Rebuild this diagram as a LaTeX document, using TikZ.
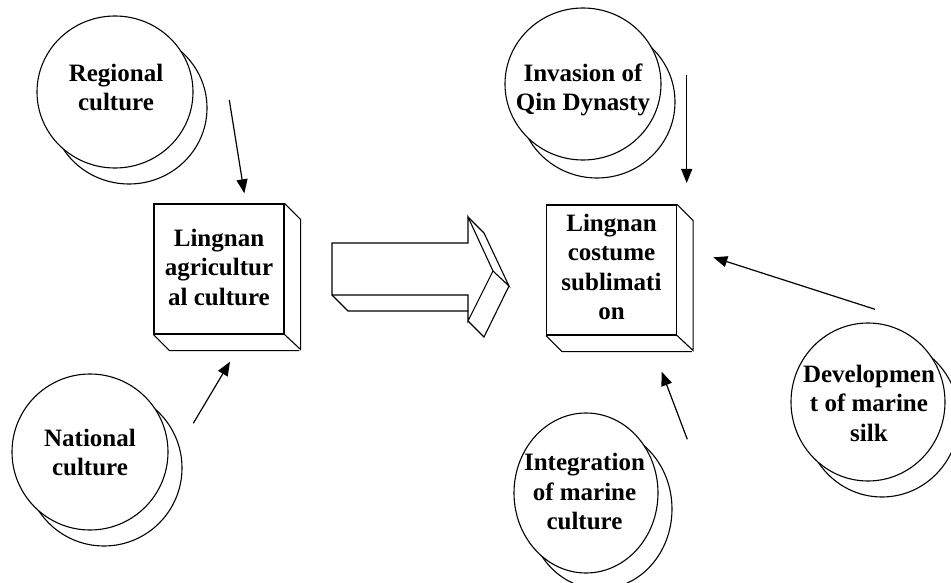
\documentclass[tikz,border=0pt]{standalone}
\usepackage{fontspec}
\setmainfont{Liberation Serif}
\usetikzlibrary{arrows.meta,shapes.geometric}
\begin{document}
\begin{tikzpicture}[x=1pt,y=-1pt,
  ln/.style={line width=1.1pt, line join=miter},
  bub/.style={ellipse, draw, line width=1.1pt, fill=white, inner sep=0pt},
  txt/.style={font=\bfseries\fontsize{25}{29.5}\selectfont, align=center, inner sep=0pt},
  cubebox/.style={draw, line width=1.1pt, fill=white, minimum width=130pt, minimum height=130pt, inner sep=0pt},
  conn/.style={line width=1.2pt, -{Triangle[length=14pt,width=11pt]}}
]
\useasboundingbox (0,0) rectangle (951,583);

% ---- circles (back, then front) ----
\node[bub, minimum width=156pt, minimum height=152pt] (regB) at (129,108) {};
\node[bub, minimum width=156pt, minimum height=152pt] (reg) at (115,92) {};
\node[txt] (regT) at (116,87.5) {Regional\\culture};

\node[bub, minimum width=156pt, minimum height=152pt] (invB) at (597,102) {};
\node[bub, minimum width=156pt, minimum height=152pt] (inv) at (583,84) {};
\node[txt] (invT) at (583,90) {Invasion of\\Qin Dynasty};

\node[bub, minimum width=156pt, minimum height=156pt] (natB) at (104,468) {};
\node[bub, minimum width=156pt, minimum height=156pt] (nat) at (90,452) {};
\node[txt] (natT) at (90,452.5) {National\\culture};

\node[bub, minimum width=154pt, minimum height=158pt] (devB) at (882,418) {};
\node[bub, minimum width=154pt, minimum height=158pt] (dev) at (868,402) {};
\node[txt] (devT) at (869,403) {Developmen\\t of marine\\silk};

\node[bub, minimum width=144pt, minimum height=160pt] (intB) at (600,509) {};
\node[bub, minimum width=144pt, minimum height=160pt] (int) at (586,493) {};
\node[txt] (intT) at (584.5,491.5) {Integration\\of marine\\culture};

% ---- 3D boxes ----
\node[cubebox] (lb) at (219,269) {};
\draw[ln] (lb.north east) -- ++(16,16) -- ++(0,130) -- (lb.south east);
\draw[ln] (lb.south west) -- ++(16,16) -- ++(130,0);
\node[txt] (lbT) at (219,267) {Lingnan\\agricultur\\al culture};

\node[cubebox] (rb) at (611.5,270) {};
\draw[ln] (rb.north east) -- ++(16,16) -- ++(0,130) -- (rb.south east);
\draw[ln] (rb.south west) -- ++(16,16) -- ++(130,0);
\node[txt] (rbT) at (611.5,267) {Lingnan\\costume\\sublimati\\on};

% ---- big 3D arrow ----
\coordinate (aA) at (332,243);
\coordinate (aB) at (468,243);
\coordinate (aC) at (468,217);
\coordinate (aT) at (493,271);
\coordinate (aD) at (468,321);
\coordinate (aE) at (468,295);
\coordinate (aF) at (332,295);
\coordinate (aC2) at (484,233);
\coordinate (aT2) at (509,286);
\coordinate (aD2) at (484,337);
\coordinate (aF2) at (348,311);
\coordinate (aE2) at (468,311);
\draw[ln, fill=white] (aA) -- (aB) -- (aC) -- (aT) -- (aD) -- (aE) -- (aF) -- cycle;
\draw[ln] (aF) -- (aF2) -- (aE2);
\draw[ln] (aC) -- (aC2) -- (aT2) -- (aT);
\draw[ln] (aT2) -- (aD2) -- (aD);

% ---- connectors ----
\coordinate (c1s) at (229.3,100);  \coordinate (c1e) at (244.3,193.3);
\coordinate (c2s) at (193.3,423.3); \coordinate (c2e) at (230,361.7);
\coordinate (c3s) at (686.7,75);   \coordinate (c3e) at (686.7,183);
\coordinate (c4s) at (875,309.3);  \coordinate (c4e) at (713.3,257.3);
\coordinate (c5s) at (687.3,439.3); \coordinate (c5e) at (661.7,371.7);
\draw[conn] (c1s) -- (c1e);
\draw[conn] (c2s) -- (c2e);
\draw[conn] (c3s) -- (c3e);
\draw[conn] (c4s) -- (c4e);
\draw[conn] (c5s) -- (c5e);
\end{tikzpicture}
\end{document}
